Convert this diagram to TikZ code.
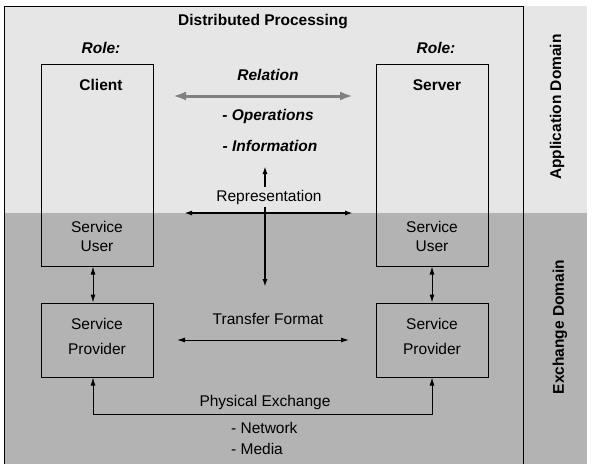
\documentclass[tikz,border=0pt]{standalone}
\usepackage{fontspec}
\setmainfont{Liberation Sans}
\usetikzlibrary{arrows.meta}
\definecolor{appgray}{HTML}{E6E6E6}
\definecolor{exgray}{HTML}{B3B3B3}
\definecolor{relgray}{HTML}{808080}
\begin{document}
\begin{tikzpicture}[x=1pt,y=-1pt,
    txt/.style={font=\fontsize{15.5}{19}\selectfont,inner sep=0pt},
    bftxt/.style={txt,font=\fontsize{15.5}{19}\selectfont\bfseries},
    bitxt/.style={txt,font=\fontsize{15.5}{19}\selectfont\bfseries\itshape},
    box/.style={draw,line width=1pt,minimum width=112pt,inner sep=0pt},
    dbl/.style={{Latex[length=8pt,width=5pt]}-{Latex[length=8pt,width=5pt]},line width=1pt},
    rel/.style={{Latex[length=13pt,width=9pt]}-{Latex[length=13pt,width=9pt]},line width=3pt,relgray}]
    \fill[white] (0,0) rectangle (594,472);
    \useasboundingbox (0,0) rectangle (594,472);
    % domains
    \fill[appgray] (4,6) rectangle (587,213);
    \fill[exgray] (4,213) rectangle (587,464);
    \draw[line width=1pt] (4,464) -- (4,6) -- (523,6) -- (523,464);
    \node[bftxt,rotate=90] (appdom) at (557,107) {Application Domain};
    \node[bftxt,rotate=90] (exdom) at (560,327) {Exchange Domain};
    \node[bftxt] (title) at (263,22) {Distributed Processing};
    % roles
    \node[bitxt] (crole) at (101,48) {Role:};
    \node[bitxt] (srole) at (436,48) {Role:};
    \node[box,minimum height=202pt] (client) at (97,165) {};
    \node[box,minimum height=202pt] (server) at (432,165) {};
    \node[bftxt] (clbl) at (101,85) {Client};
    \node[bftxt] (slbl) at (437,85) {Server};
    \node[txt,align=center] (cuser) at (97,236) {Service\\User};
    \node[txt,align=center] (suser) at (432,236) {Service\\User};
    \node[box,minimum height=74pt] (cprov) at (97,340) {};
    \node[box,minimum height=74pt] (sprov) at (432,340) {};
    \node[txt,align=center,font=\fontsize{15.5}{25}\selectfont] (cplbl) at (97,336) {Service\\Provider};
    \node[txt,align=center,font=\fontsize{15.5}{25}\selectfont] (splbl) at (432,336) {Service\\Provider};
    % relation
    \node[bitxt] (relation) at (268,75) {Relation};
    \coordinate (relL) at (173,96);
    \coordinate (relR) at (353,96);
    \draw[rel] (relL) -- (relR);
    \node[bitxt] (ops) at (268,116) {- Operations};
    \node[bitxt] (info) at (270,146) {- Information};
    % representation
    \node[txt] (repr) at (269,197) {Representation};
    \coordinate (vtop) at (265,166);
    \coordinate (vmid) at (265,187);
    \coordinate (vlow) at (265,207);
    \coordinate (vbot) at (265,287);
    \coordinate (hL) at (184,213);
    \coordinate (hR) at (353,213);
    \draw[-{Latex[length=8pt,width=5pt]},line width=1.6pt] (vmid) -- (vtop);
    \draw[-{Latex[length=8pt,width=5pt]},line width=1.6pt] (vlow) -- (vbot);
    \draw[dbl,line width=1.6pt] (hL) -- (hR);
    % service user <-> provider
    \draw[dbl] ([xshift=-4pt]client.south) -- ([xshift=-4pt]cprov.north);
    \draw[dbl] (server.south) -- (sprov.north);
    % transfer format
    \node[txt] (transfer) at (268,319) {Transfer Format};
    \coordinate (tL) at (177,340);
    \coordinate (tR) at (349,340);
    \draw[dbl] (tL) -- (tR);
    % physical exchange
    \node[txt] (phys) at (265,402) {Physical Exchange};
    \draw[dbl] ([xshift=-4pt]cprov.south) -- ++(0,37) -| (sprov.south);
    \node[txt,anchor=west] (net) at (231,428) {- Network};
    \node[txt,anchor=west] (media) at (231,449) {- Media};
\end{tikzpicture}
\end{document}
